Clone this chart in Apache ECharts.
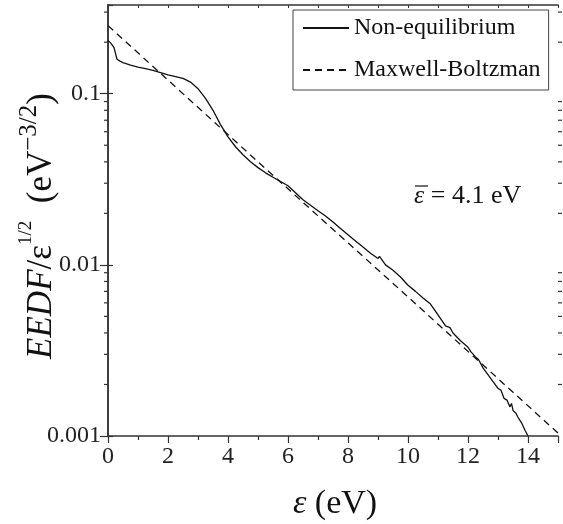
<!DOCTYPE html>
<html>
<head>
<meta charset="utf-8">
<script src="https://cdn.jsdelivr.net/npm/echarts@6/dist/echarts.min.js"></script>
<style>
html,body{margin:0;padding:0;background:#fff;}
#chart{width:563px;height:524px;}
</style>
</head>
<body>
<div id="chart"></div>
<script>
// ---- data ----
const energy = [0.00,0.05,0.10,0.15,0.20,0.25,0.30,0.40,0.50,0.75,1.00,1.25,1.50,1.75,2.00,2.25,2.50,2.75,3.00,3.25,3.50,3.75,4.00,4.25,4.50,4.75,5.00,5.25,5.50,5.75,6.00,6.25,6.50,6.75,7.00,7.25,7.50,7.75,8.00,8.25,8.50,8.75,9.00,9.05,9.25,9.50,9.75,10.00,10.25,10.50,10.75,11.00,11.25,11.40,11.50,11.75,12.00,12.10,12.25,12.35,12.50,12.75,13.00,13.10,13.20,13.30,13.40,13.45,13.50,13.60,13.65,13.70,13.80,13.90,14.00];
const nonEquilibrium = [0.205,0.200,0.197,0.192,0.186,0.172,0.159,0.155,0.152,0.147,0.143,0.140,0.137,0.133,0.129,0.126,0.123,0.117,0.107,0.094,0.080,0.066,0.056,0.049,0.044,0.040,0.037,0.0345,0.0325,0.0307,0.0290,0.0264,0.0240,0.0223,0.0207,0.0193,0.0178,0.0163,0.0150,0.0138,0.0127,0.0117,0.0109,0.0112,0.0100,0.0093,0.0085,0.0076,0.0070,0.0064,0.0059,0.0051,0.0044,0.0043,0.0040,0.0036,0.0033,0.0031,0.0029,0.0028,0.0025,0.00218,0.0019,0.00185,0.00166,0.00162,0.00148,0.00155,0.00141,0.00136,0.00130,0.00128,0.00118,0.00108,0.00100];
const mbEnergy = [0, 5, 10, 15];
const maxwellBoltzman = [0.25, 0.040, 0.0065, 0.00104];
const minorTickValues = [0.002,0.003,0.004,0.005,0.006,0.007,0.008,0.009,0.02,0.03,0.04,0.05,0.06,0.07,0.08,0.09,0.2,0.3];
const seriesNames = ['Non-equilibrium', 'Maxwell-Boltzman'];
const meanEnergyLabel = ' = 4.1 eV';

const FONT = '"Liberation Serif", "Times New Roman", serif';
const chart = echarts.init(document.getElementById('chart'));

const option = {
  animation: false,
  backgroundColor: '#fff',
  grid: {left: 108, right: 5, top: 5, bottom: 88},
  legend: {
    data: seriesNames,
    orient: 'vertical',
    left: 293, top: 10,
    padding: [6, 8, 8, 9],
    itemWidth: 46, itemHeight: 14, itemGap: 18,
    borderColor: '#444', borderWidth: 1,
    itemStyle: {opacity: 0},
    textStyle: {fontFamily: FONT, fontSize: 24, color: '#111'},
    selectedMode: false
  },
  xAxis: [{
    type: 'value', min: 0, max: 15, interval: 2, position: 'bottom',
    axisLine: {lineStyle: {color: '#333', width: 1.5}},
    axisTick: {length: 7, lineStyle: {color: '#333', width: 1.2}},
    minorTick: {show: true, splitNumber: 2, length: 4, lineStyle: {color: '#333', width: 1.2}},
    axisLabel: {fontFamily: FONT, fontSize: 24, color: '#222', margin: 9, showMaxLabel: false},
    splitLine: {show: false}
  }, {
    type: 'value', min: 0, max: 15, interval: 1, position: 'top',
    axisLine: {lineStyle: {color: '#333', width: 1.5}},
    axisTick: {inside: true, length: 3, lineStyle: {color: '#333', width: 1}},
    axisLabel: {show: false},
    splitLine: {show: false}
  }],
  yAxis: [{
    type: 'log', logBase: 10, min: 0.001, max: 0.33, position: 'left',
    axisLine: {show: true, lineStyle: {color: '#333', width: 1.5}},
    axisTick: {show: true, length: 8, lineStyle: {color: '#333', width: 1.2}},
    axisLabel: {fontFamily: FONT, fontSize: 24, color: '#222', margin: 7, showMaxLabel: false,
      formatter: function (v) { return String(v); }},
    splitLine: {show: false}
  }, {
    type: 'log', logBase: 10, min: 0.001, max: 0.33, position: 'right',
    axisLine: {show: true, lineStyle: {color: '#333', width: 1.5}},
    axisTick: {show: true, length: 5, lineStyle: {color: '#333', width: 1.2}},
    axisLabel: {show: false},
    splitLine: {show: false}
  }],
  series: [{
    name: seriesNames[0], type: 'line', xAxisIndex: 0, yAxisIndex: 0,
    data: energy.map((e, i) => [e, nonEquilibrium[i]]),
    symbol: 'none', smooth: false,
    lineStyle: {color: '#111', width: 1.3, type: 'solid'},
    itemStyle: {color: '#111'}
  }, {
    name: seriesNames[1], type: 'line', xAxisIndex: 0, yAxisIndex: 0,
    data: mbEnergy.map((e, i) => [e, maxwellBoltzman[i]]),
    symbol: 'none',
    lineStyle: {color: '#111', width: 1.3, type: [7, 5]},
    itemStyle: {color: '#111'}
  }, {
    name: 'minorTicks', type: 'custom', xAxisIndex: 0, yAxisIndex: 0, clip: false, silent: true,
    data: minorTickValues.map(v => [0, v]),
    renderItem: function (params, api) {
      const pL = api.coord([0, api.value(1)]);
      const pR = api.coord([15, api.value(1)]);
      const st = {stroke: '#333', lineWidth: 1.2};
      return {type: 'group', children: [
        {type: 'line', shape: {x1: pL[0] - 4, y1: pL[1], x2: pL[0], y2: pL[1]}, style: st},
        {type: 'line', shape: {x1: pR[0], y1: pR[1], x2: pR[0] + 4, y2: pR[1]}, style: st}
      ]};
    }
  }],
  graphic: [{
    type: 'text', x: 335, y: 504,
    style: {
      text: '{i|ε} (eV)', align: 'center', verticalAlign: 'middle',
      fontFamily: FONT, fontSize: 34, fill: '#111',
      rich: {i: {fontFamily: FONT, fontSize: 34, fontStyle: 'italic', fill: '#111'}}
    }
  }, {
    type: 'text', x: 38, y: 226, rotation: Math.PI / 2,
    style: {
      text: '{i|EEDF}{n|/ε}{s|1/2}{n|  (eV}{t|−3/2}{n|)}',
      align: 'center', verticalAlign: 'middle', fill: '#111',
      rich: {
        i: {fontFamily: FONT, fontSize: 35, fontStyle: 'italic', lineHeight: 42, verticalAlign: 'bottom', fill: '#111'},
        n: {fontFamily: FONT, fontSize: 35, lineHeight: 42, verticalAlign: 'bottom', fill: '#111'},
        s: {fontFamily: FONT, fontSize: 19, lineHeight: 22, verticalAlign: 'top', fill: '#111'},
        t: {fontFamily: FONT, fontSize: 25, lineHeight: 24, verticalAlign: 'top', fill: '#111'}
      }
    }
  }, {
    type: 'group', x: 414, y: 196,
    children: [{
      type: 'text', x: 0, y: 0,
      style: {
        text: '{i|ε}' + meanEnergyLabel, verticalAlign: 'middle', align: 'left',
        fontFamily: FONT, fontSize: 26, fill: '#111',
        rich: {i: {fontFamily: FONT, fontSize: 26, fontStyle: 'italic', fill: '#111'}}
      }
    }, {
      type: 'line', shape: {x1: 1, y1: -10, x2: 14, y2: -10},
      style: {stroke: '#111', lineWidth: 1.2}
    }]
  }]
};
chart.setOption(option);
</script>
</body>
</html>
